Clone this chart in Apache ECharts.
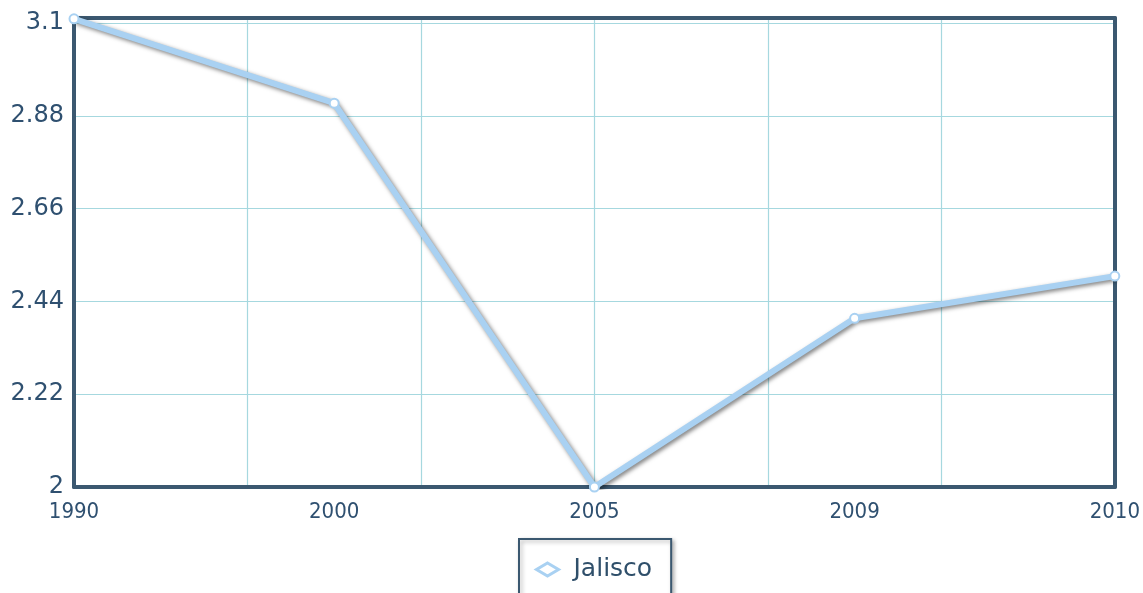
<!DOCTYPE html>
<html><head><meta charset="utf-8">
<script src="https://cdn.jsdelivr.net/npm/echarts@6/dist/echarts.min.js"></script>
<style>html,body{margin:0;padding:0;background:#fff}#c{width:1143px;height:593px}</style>
</head><body><div id="c"></div>
<script>
const categories = ['1990', '2000', '2005', '2009', '2010'];
const seriesName = 'Jalisco';
const values = [3.11, 2.91, 2.0, 2.4, 2.5];
const yTicks = [2, 2.22, 2.44, 2.66, 2.88, 3.1];

function frame() { return {show: true, onZero: false, lineStyle: {color: '#3b5870', width: 4}}; }
function gridLine() { return {show: true, lineStyle: {color: '#a6d8df', width: 1.2, opacity: 1}}; }
const chart = echarts.init(document.getElementById('c'));
chart.setOption({
  animation: false,
  grid: {left: 74, right: 28, top: 18, bottom: 106},
  legend: {
    top: 539, left: 519, data: [{name: seriesName, icon: 'diamond'}],
    itemWidth: 22, itemHeight: 13, itemGap: 10, padding: [18, 19, 30, 16],
    itemStyle: {color: '#ffffff', borderColor: '#a9d1f2', borderWidth: 3},
    borderColor: '#3b5870', borderWidth: 2, backgroundColor: '#fff',
    shadowColor: 'rgba(0,0,0,0.3)', shadowBlur: 4, shadowOffsetX: 2, shadowOffsetY: 2,
    textStyle: {color: '#2f4f6a', fontSize: 25, fontFamily: 'DejaVu Sans', padding: [0, 0, 0, 10]}
  },
  xAxis: [{
    type: 'category', data: categories, boundaryGap: false, position: 'bottom',
    axisLine: frame(), axisTick: {show: false}, splitLine: {show: false},
    axisLabel: {color: '#2f5070', fontSize: 22, fontFamily: 'DejaVu Sans Condensed', margin: 14, showMinLabel: true, showMaxLabel: true, interval: 0}
  }, {
    type: 'value', min: 0, max: 6, interval: 1, position: 'top',
    axisLine: frame(), axisTick: {show: false}, axisLabel: {show: false},
    splitLine: gridLine()
  }],
  yAxis: [{
    type: 'value', min: 2, max: 3.112, interval: 0.22, position: 'left',
    axisLine: frame(), axisTick: {show: false},
    splitLine: gridLine(),
    axisLabel: {color: '#2f5070', fontSize: 24, fontFamily: 'DejaVu Sans', margin: 10, showMaxLabel: false,
      formatter: v => { const m = yTicks.find(t => Math.abs(t - v) < 1e-6); return m !== undefined ? String(m) : ''; }}
  }, {
    type: 'value', min: 2, max: 3.112, interval: 0.22, position: 'right',
    axisLine: frame(), axisTick: {show: false}, axisLabel: {show: false}, splitLine: {show: false}
  }],
  series: [{
    name: seriesName, type: 'line', xAxisIndex: 0, yAxisIndex: 0, data: values, z: 5,
    symbol: 'circle', symbolSize: 9, showSymbol: true,
    lineStyle: {color: '#a9d1f2', width: 6, shadowColor: 'rgba(0,0,0,0.5)', shadowBlur: 4, shadowOffsetX: 2, shadowOffsetY: 2},
    itemStyle: {color: '#ffffff', borderColor: '#a9d1f2', borderWidth: 2},
    color: '#a9d1f2'
  }]
});
</script></body></html>
